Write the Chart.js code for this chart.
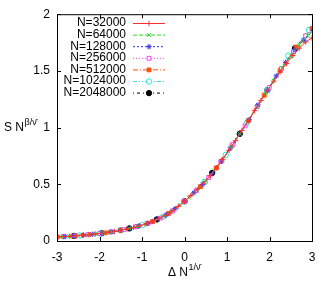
<!DOCTYPE html>
<html>
<head>
<meta charset="utf-8">
<script src="https://cdn.jsdelivr.net/npm/chart.js@4/dist/chart.umd.min.js"></script>
<style>
  html, body { margin: 0; padding: 0; background: #fff; }
</style>
</head>
<body>
<canvas id="chart" width="332" height="291"></canvas>
<script>
const seriesNames = ['N=32000', 'N=64000', 'N=128000', 'N=256000', 'N=512000', 'N=1024000', 'N=2048000'];

const x32000 = [-3.0, -2.85, -2.7, -2.55, -2.4, -2.25, -2.1, -1.95, -1.8, -1.65, -1.5, -1.35, -1.2, -1.05, -0.9, -0.75, -0.6, -0.45, -0.3, -0.15, 0, 0.15, 0.3, 0.45, 0.6, 0.75, 0.9, 1.05, 1.2, 1.35, 1.5, 1.65, 1.8, 1.95, 2.1, 2.25, 2.4, 2.55, 2.7, 2.85, 3.0];
const y32000 = [0.035, 0.039, 0.042, 0.046, 0.051, 0.056, 0.062, 0.068, 0.076, 0.084, 0.095, 0.107, 0.12, 0.135, 0.152, 0.172, 0.196, 0.226, 0.262, 0.305, 0.35, 0.40, 0.453, 0.51, 0.575, 0.645, 0.72, 0.80, 0.885, 0.975, 1.06, 1.15, 1.24, 1.325, 1.41, 1.49, 1.565, 1.635, 1.70, 1.755, 1.79];

const x64000 = [-2.9, -2.7, -2.5, -2.3, -2.1, -1.9, -1.7, -1.5, -1.3, -1.1, -0.9, -0.7, -0.5, -0.3, -0.1, 0.1, 0.3, 0.5, 0.7, 0.9, 1.1, 1.3, 1.5, 1.7, 1.9, 2.1, 2.3, 2.5, 2.7, 2.9, 3.1];
const y64000 = [0.037, 0.042, 0.048, 0.054, 0.062, 0.071, 0.082, 0.095, 0.111, 0.13, 0.152, 0.18, 0.215, 0.262, 0.318, 0.383, 0.453, 0.53, 0.62, 0.72, 0.83, 0.945, 1.06, 1.18, 1.30, 1.415, 1.525, 1.63, 1.73, 1.815, 1.89];

const x128000 = [-2.81, -2.60, -2.38, -2.16, -1.95, -1.73, -1.52, -1.30, -1.08, -0.87, -0.65, -0.43, -0.22, 0, 0.22, 0.43, 0.65, 0.87, 1.08, 1.30, 1.52, 1.73, 1.95, 2.16, 2.38, 2.60, 2.81, 3.03];
const y128000 = [0.039, 0.045, 0.052, 0.059, 0.068, 0.08, 0.094, 0.111, 0.132, 0.155, 0.19, 0.23, 0.284, 0.35, 0.425, 0.50, 0.595, 0.705, 0.82, 0.945, 1.07, 1.20, 1.33, 1.455, 1.575, 1.685, 1.77, 1.855];

const x256000 = [-2.85, -2.565, -2.28, -1.995, -1.71, -1.425, -1.14, -0.855, -0.57, -0.285, 0, 0.285, 0.57, 0.855, 1.14, 1.425, 1.71, 1.995, 2.28, 2.565, 2.85, 3.135];
const y256000 = [0.039, 0.046, 0.055, 0.066, 0.081, 0.10, 0.125, 0.157, 0.202, 0.265, 0.35, 0.447, 0.56, 0.70, 0.853, 1.015, 1.185, 1.355, 1.52, 1.67, 1.81, 1.93];

const x512000 = [-3.0, -2.625, -2.25, -1.875, -1.5, -1.125, -0.75, -0.375, 0, 0.375, 0.75, 1.125, 1.5, 1.875, 2.25, 2.625, 3.0];
const y512000 = [0.035, 0.044, 0.056, 0.072, 0.095, 0.127, 0.172, 0.243, 0.35, 0.48, 0.645, 0.845, 1.06, 1.285, 1.505, 1.71, 1.875];

const x1024000 = [-2.47, -1.98, -1.49, -0.99, -0.5, -0.01, 0.48, 0.97, 1.46, 1.95, 2.44, 2.93, 3.42];
const y1024000 = [0.049, 0.067, 0.096, 0.141, 0.215, 0.347, 0.522, 0.76, 1.037, 1.33, 1.635, 1.86, 2.05];

const x2048000 = [-2.6, -1.95, -1.3, -0.65, 0, 0.65, 1.3, 1.95, 2.6, 3.25];
const y2048000 = [0.045, 0.068, 0.111, 0.19, 0.35, 0.60, 0.945, 1.33, 1.70, 1.99];

const xTicks = [-3, -2, -1, 0, 1, 2, 3];
const yTicks = [0, 0.5, 1, 1.5, 2];

const xs = [x32000, x64000, x128000, x256000, x512000, x1024000, x2048000];
const ys = [y32000, y64000, y128000, y256000, y512000, y1024000, y2048000];

const styles = [
  { color: '#ff3030', fill: '#ff3030', point: 'cross', dash: [] },
  { color: '#20e020', fill: '#20e020', point: 'crossRot', dash: [4, 2] },
  { color: '#3030ff', fill: '#3030ff', point: 'star', dash: [2, 2] },
  { color: '#ff40ff', fill: '#ffffff', point: 'rect', dash: [1, 2] },
  { color: '#ff5010', fill: '#ff5010', point: 'rect', dash: [5, 2, 1, 2] },
  { color: '#20e8e8', fill: '#ffffff', point: 'circle', dash: [4, 2, 1, 2, 1, 2] },
  { color: '#000000', fill: '#000000', point: 'circle', dash: [1, 3, 3, 3] },
];

const FONT = '"Liberation Sans", Arial, sans-serif';

const datasets = seriesNames.map((name, i) => ({
  label: name,
  data: xs[i].map((x, k) => ({ x, y: ys[i][k] })),
  showLine: true,
  borderColor: styles[i].color,
  backgroundColor: styles[i].fill,
  pointBorderColor: styles[i].color,
  pointBackgroundColor: styles[i].fill,
  borderWidth: 1,
  borderDash: styles[i].dash,
  pointStyle: styles[i].point,
  pointRadius: 2.7,
  pointBorderWidth: 1,
  tension: 0,
}));

function drawMarker(ctx, st, x, y) {
  ctx.save();
  ctx.setLineDash([]);
  ctx.strokeStyle = st.color;
  ctx.fillStyle = st.fill;
  ctx.lineWidth = 1;
  Chart.helpers.drawPoint(ctx, { pointStyle: st.point, radius: 2.7, rotation: 0, borderWidth: 1 }, x, y);
  ctx.restore();
}

function drawSupText(ctx, main, sup, x, yMid) {
  ctx.font = '12px ' + FONT;
  ctx.textBaseline = 'middle';
  ctx.textAlign = 'left';
  ctx.fillStyle = '#000';
  ctx.fillText(main, x, yMid);
  const w = ctx.measureText(main).width;
  ctx.font = '9px ' + FONT;
  ctx.fillText(sup, x + w + 0.5, yMid - 5);
}

const framePlugin = {
  id: 'frame',
  afterDraw(chart) {
    const { ctx, chartArea: a, scales } = chart;
    ctx.save();
    ctx.strokeStyle = '#000';
    ctx.lineWidth = 1;
    ctx.setLineDash([]);
    ctx.strokeRect(a.left + 0.5, a.top + 0.5, a.right - a.left, a.bottom - a.top);
    const tl = 4;
    ctx.beginPath();
    xTicks.forEach(v => {
      const px = Math.round(scales.x.getPixelForValue(v)) + 0.5;
      ctx.moveTo(px, a.bottom); ctx.lineTo(px, a.bottom - tl);
      ctx.moveTo(px, a.top); ctx.lineTo(px, a.top + tl);
    });
    yTicks.forEach(v => {
      const py = Math.round(scales.y.getPixelForValue(v)) + 0.5;
      ctx.moveTo(a.left, py); ctx.lineTo(a.left + tl, py);
      ctx.moveTo(a.right, py); ctx.lineTo(a.right - tl, py);
    });
    ctx.stroke();

    // legend, gnuplot style: text right aligned, sample to the right
    seriesNames.forEach((name, i) => {
      const y = 23 + i * 11.6;
      ctx.font = '12px ' + FONT;
      ctx.textAlign = 'right';
      ctx.textBaseline = 'middle';
      ctx.fillStyle = '#000';
      ctx.fillText(name, 126, y);
      ctx.strokeStyle = styles[i].color;
      ctx.setLineDash(styles[i].dash);
      ctx.beginPath();
      ctx.moveTo(133, y + 0.5); ctx.lineTo(165, y + 0.5);
      ctx.stroke();
      drawMarker(ctx, styles[i], 149, y + 0.5);
    });

    // axis titles
    ctx.setLineDash([]);
    drawSupText(ctx, 'S N', 'β/ν̄', 4, 128);
    drawSupText(ctx, 'Δ N', '1/ν̄', 168, 273);
    ctx.restore();
  }
};

new Chart(document.getElementById('chart'), {
  type: 'scatter',
  data: { datasets },
  options: {
    responsive: false,
    animation: false,
    devicePixelRatio: 1,
    layout: { padding: { top: 14, right: 20, left: 0, bottom: 0 } },
    plugins: { legend: { display: false }, tooltip: { enabled: false } },
    scales: {
      x: {
        type: 'linear', min: -3, max: 3,
        afterFit: s => { s.height = 50; },
        afterBuildTicks: s => { s.ticks = xTicks.map(v => ({ value: v })); },
        grid: { display: false, drawTicks: false, tickLength: 0 },
        border: { display: false },
        ticks: { padding: 9, color: '#000', font: { family: FONT, size: 12 }, maxRotation: 0 },
      },
      y: {
        type: 'linear', min: 0, max: 2,
        afterFit: s => { s.width = 57; },
        afterBuildTicks: s => { s.ticks = yTicks.map(v => ({ value: v })); },
        grid: { display: false, drawTicks: false, tickLength: 0 },
        border: { display: false },
        ticks: { padding: 7, color: '#000', font: { family: FONT, size: 12 }, callback: v => String(v) },
      },
    },
  },
  plugins: [framePlugin],
});
</script>
</body>
</html>
